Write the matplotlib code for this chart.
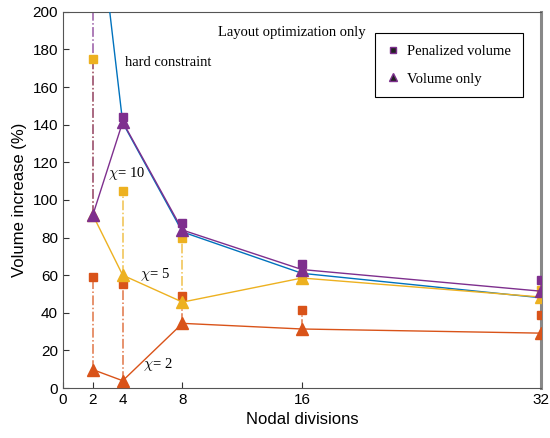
import numpy as np
import matplotlib
matplotlib.use('Agg')
from matplotlib import pyplot as plt
from matplotlib.lines import Line2D

# nodal divisions
divs = [2, 4, 8, 16, 32]

# layout optimization only (hard constraint)
layout_only = [277, 141, 83, 61, 48]

# volume only (triangles) and penalized volume (squares) for each chi
vol_chi10 = [92, 141.5, 84, 63, 51.5]
pen_chi10 = [250, 144, 87.5, 66, 57.5]
vol_chi5 = [92, 60, 45.7, 58.5, 48.4]
pen_chi5 = [175, 104.8, 79.8, 60, 52]
vol_chi2 = [9.8, 3.9, 34.4, 31.4, 29.2]
pen_chi2 = [59.2, 55.2, 48.8, 41.7, 38.7]

blue = '#0072BD'
orange = '#D95319'
yellow = '#EDB120'
purple = '#7E2F8E'

plt.rcParams['font.family'] = ['Liberation Sans', 'DejaVu Sans']
plt.rcParams['mathtext.fontset'] = 'cm'

fig = plt.figure(figsize=(5.5, 4.38), dpi=100)
ax = fig.add_axes([0.1145, 0.114, 0.869, 0.859])

# dash-dot links between volume only and penalized result
for vol, pen, c in [(vol_chi2, pen_chi2, orange), (vol_chi5, pen_chi5, yellow), (vol_chi10, pen_chi10, purple)]:
    for x, a, b in zip(divs, vol, pen):
        ax.plot([x, x], [a, b], '-.', color=c, lw=1.1, alpha=0.8, zorder=2)

ax.plot(divs, layout_only, '-', color=blue, lw=1.0, zorder=3)

for vol, pen, c in [(vol_chi2, pen_chi2, orange), (vol_chi5, pen_chi5, yellow), (vol_chi10, pen_chi10, purple)]:
    ax.plot(divs, vol, '-', color=c, lw=1.0, marker='^', ms=9, zorder=4)
    ax.plot(divs, pen, 's', color=c, ms=6, zorder=4)

# annotations
tf = dict(family=['Liberation Serif', 'DejaVu Serif'], fontsize=10.5)
ax.text(10.4, 187, 'Layout optimization only', **tf)
ax.text(4.15, 171, 'hard constraint', **tf)
ax.text(3.0, 112, r'$\chi$= 10', **tf)
ax.text(5.15, 58.5, r'$\chi$= 5', **tf)
ax.text(5.35, 10.6, r'$\chi$= 2', **tf)

handles = [Line2D([], [], ls='', marker='s', color='#222222', mec=purple, ms=5),
           Line2D([], [], ls='', marker='^', color='#222222', mec=purple, ms=6)]
leg = ax.legend(handles, ['Penalized volume', 'Volume only'], loc='upper right',
                bbox_to_anchor=(0.962, 0.944), prop={'family': 'Liberation Serif', 'size': 10.5},
                fancybox=False, edgecolor='black', handlelength=0.8, handletextpad=0.6,
                labelspacing=1.0, borderpad=0.8, borderaxespad=0, framealpha=1)
leg.get_frame().set_linewidth(0.8)

ax.set_xlim(0, 32)
ax.set_ylim(0, 200)
ax.set_xticks([0, 2, 4, 8, 16, 32])
ax.set_yticks(np.arange(0, 201, 20))
ax.tick_params(direction='in', labelsize=11, length=4, color='#333333')
for s in ax.spines.values():
    s.set_color('#555555')
ax.spines['right'].set_linewidth(2.2)
ax.spines['right'].set_color('#888888')
ax.set_xlabel('Nodal divisions', fontsize=12)
ax.set_ylabel('Volume increase (%)', fontsize=12)

fig.savefig('out.png', dpi=100)
